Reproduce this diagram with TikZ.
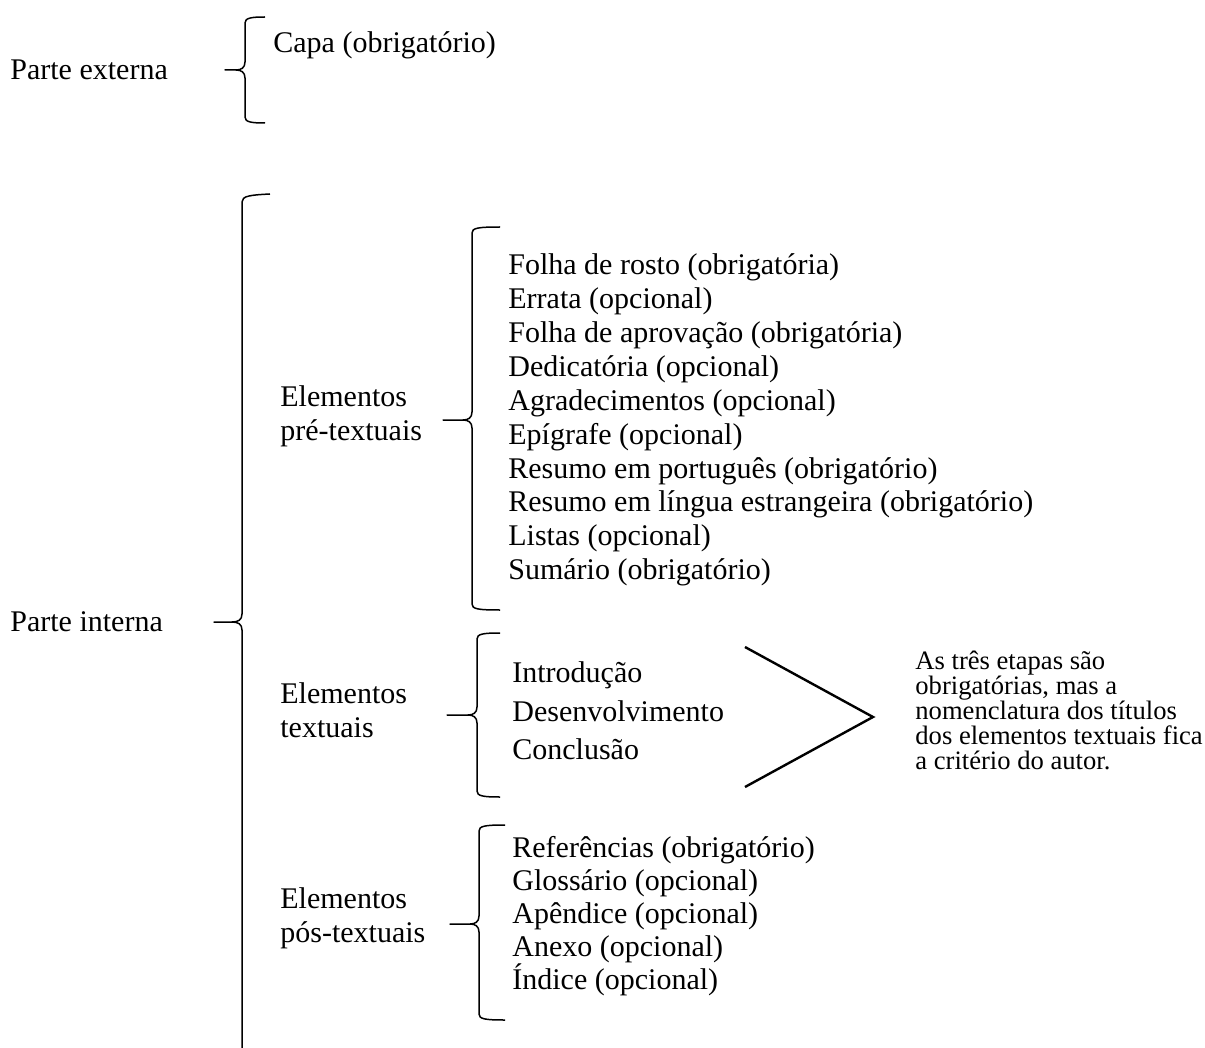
\documentclass[tikz,border=0pt]{standalone}
\usepackage{fontspec}
\setmainfont{Liberation Serif}
\newcommand\bracepath[6]{% xv, ytop, ymid, ybot, xtip, xend
  \draw[bracestyle] (#6,#2) .. controls (#1+6,#2) and (#1,#2+1) .. (#1,#2+6)
    -- (#1,#3-8) .. controls (#1,#3-2) and (#1-4,#3) .. (#1-9,#3) -- (#5,#3)
    -- (#1-9,#3) .. controls (#1-4,#3) and (#1,#3+2) .. (#1,#3+8)
    -- (#1,#4-6) .. controls (#1,#4-1) and (#1+6,#4) .. (#6,#4);}
\begin{document}
\begin{tikzpicture}[x=0.5pt,y=-0.5pt,
  bracestyle/.style={line width=0.75pt,line join=round},
  maintext/.style={inner sep=0pt,anchor=west,align=left,font=\fontsize{15}{17}\selectfont},
  notetext/.style={inner sep=0pt,anchor=west,align=left,font=\fontsize{13.3}{12.5}\selectfont},
  angleline/.style={line width=1.2pt}]
\useasboundingbox (0,0) rectangle (1205,1048);
% Parte externa
\node[maintext] (ext) at (10,70) {Parte externa};
\bracepath{245}{17}{70}{123}{225}{265}
\node[maintext] (capa) at (273,45) {Capa (obrigatório)};
% Parte interna
\node[maintext] (int) at (10,622) {Parte interna};
\draw[bracestyle] (270,194) .. controls (250,195) and (242,196) .. (242,202)
  -- (242,614) .. controls (242,620) and (238,622) .. (232,622) -- (214,622)
  -- (232,622) .. controls (238,622) and (242,624) .. (242,630) -- (242,1048);
% Pre-textuais
\node[maintext] (pre) at (280,416.5) {Elementos\\pré-textuais};
\bracepath{472}{227}{420}{610}{443}{500}
\node[maintext,font=\fontsize{15}{16.95}\selectfont] (prelist) at (508,420) {Folha de rosto (obrigatória)\\
Errata (opcional)\\
Folha de aprovação (obrigatória)\\
Dedicatória (opcional)\\
Agradecimentos (opcional)\\
Epígrafe (opcional)\\
Resumo em português (obrigatório)\\
Resumo em língua estrangeira (obrigatório)\\
Listas (opcional)\\
Sumário (obrigatório)};
% Textuais
\node[maintext] (tex) at (280,710.5) {Elementos\\textuais};
\bracepath{477}{633}{715}{797}{447}{500}
\node[maintext,font=\fontsize{15}{19.25}\selectfont] (texlist) at (512,711) {Introdução\\Desenvolvimento\\Conclusão};
\coordinate (atop) at (745,647);
\coordinate (atip) at (873,717);
\coordinate (abot) at (745,787);
\draw[angleline] (atop) -- (atip) -- (abot);
\node[notetext] (note) at (915,710.5) {As três etapas são\\obrigatórias, mas a\\nomenclatura dos títulos\\dos elementos textuais fica\\a critério do autor.};
% Pos-textuais
\node[maintext] (pos) at (280,918.5) {Elementos\\pós-textuais};
\bracepath{479}{825}{924}{1020}{450}{505}
\node[maintext,font=\fontsize{15}{16.5}\selectfont] (poslist) at (512,916) {Referências (obrigatório)\\
Glossário (opcional)\\
Apêndice (opcional)\\
Anexo (opcional)\\
Índice (opcional)};
\end{tikzpicture}
\end{document}
